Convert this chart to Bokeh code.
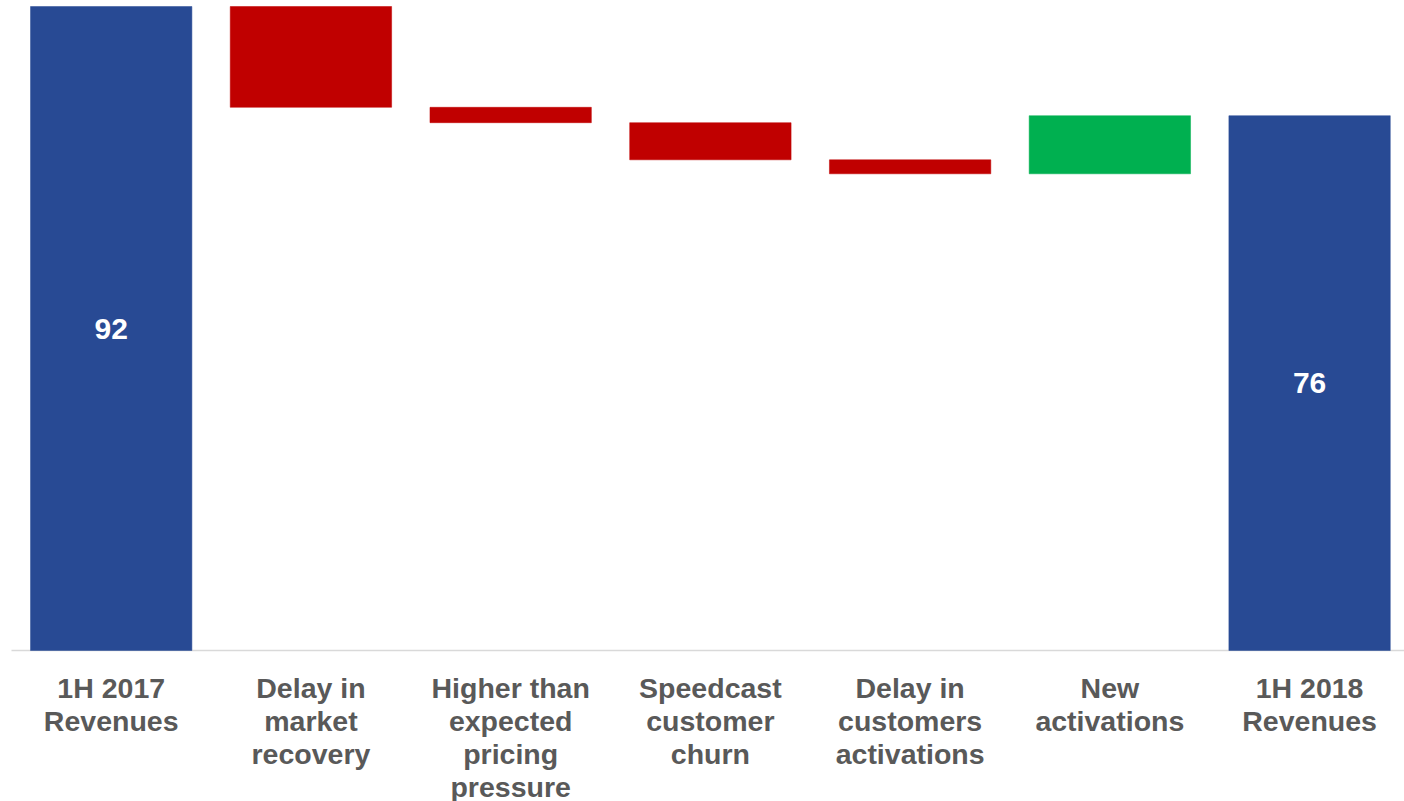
from bokeh.plotting import figure
from bokeh.models import Range1d, ColumnDataSource
from bokeh.core.properties import value
from bokeh.embed import file_html
from bokeh.resources import INLINE

# ---- data ----
categories = [
    "1H 2017\nRevenues",
    "Delay in\nmarket\nrecovery",
    "Higher than\nexpected\npricing\npressure",
    "Speedcast\ncustomer\nchurn",
    "Delay in\ncustomers\nactivations",
    "New\nactivations",
    "1H 2018\nRevenues",
]
kinds = ["total", "delta", "delta", "delta", "delta", "delta", "total"]
values = [92.0, -14.4, -2.2, -5.3, -2.0, 8.3, 76.4]

# ---- styles ----
COL_TOTAL = "#284A94"
COL_NEG = "#C00000"
COL_POS = "#00B050"
LABEL_COL = "#595959"
FONT = "Liberation Sans"

# ---- waterfall geometry from data ----
xs, bottoms, tops, colors, mids, vlabels = [], [], [], [], [], []
running = 0.0
for i, (k, v) in enumerate(zip(kinds, values)):
    if k == "total":
        b, t = 0.0, v
        running = v
        colors.append(COL_TOTAL)
        vlabels.append(f"{v:.0f}")
    else:
        b, t = running, running + v
        running += v
        colors.append(COL_NEG if v < 0 else COL_POS)
        vlabels.append("")
    xs.append(i)
    bottoms.append(min(b, t))
    tops.append(max(b, t))
    mids.append((b + t) / 2)

src = ColumnDataSource(dict(x=xs, bottom=bottoms, top=tops, color=colors,
                            mid=mids, label=vlabels))

# ---- layout (pixels) ----
W, H = 1404, 801
step_px = 199.73
first_center_px = 110.7
base_px = 650
px_per_unit = 7.0
x_start = -first_center_px / step_px
x_end = x_start + W / step_px
y_end = base_px / px_per_unit
y_start = -(H - base_px) / px_per_unit

p = figure(width=W, height=H, x_range=Range1d(x_start, x_end),
           y_range=Range1d(y_start, y_end), output_backend="svg",
           toolbar_location=None, min_border=0)
p.xaxis.visible = False
p.yaxis.visible = False
p.xgrid.visible = False
p.ygrid.visible = False
p.outline_line_color = None
p.background_fill_color = "white"
p.border_fill_color = "white"

# baseline
p.segment(x0=[x_start + 11 / step_px], x1=[x_end], y0=[0], y1=[0],
          line_color="#D9D9D9", line_width=1.5)

p.vbar(x="x", bottom="bottom", top="top", width=0.808, color="color",
       line_color="color", line_width=0.5, source=src)

p.text(x="x", y="mid", text="label", source=src, text_color="white",
       text_font=value(FONT), text_font_style="bold", text_font_size="30px",
       text_align="center", text_baseline="middle")

# category labels below the baseline
first_base_px = 37
line_px = 33
lx, ly, lt = [], [], []
for i, cat in enumerate(categories):
    for j, line in enumerate(cat.split("\n")):
        lx.append(i)
        ly.append(-(first_base_px + j * line_px) / px_per_unit)
        lt.append(line)
lsrc = ColumnDataSource(dict(x=lx, y=ly, text=lt))
p.text(x="x", y="y", text="text", source=lsrc, text_color=LABEL_COL,
       text_font=value(FONT), text_font_style="bold", text_font_size="28.5px",
       text_align="center", text_baseline="alphabetic")

open("out.html", "w").write(file_html(p, INLINE))
